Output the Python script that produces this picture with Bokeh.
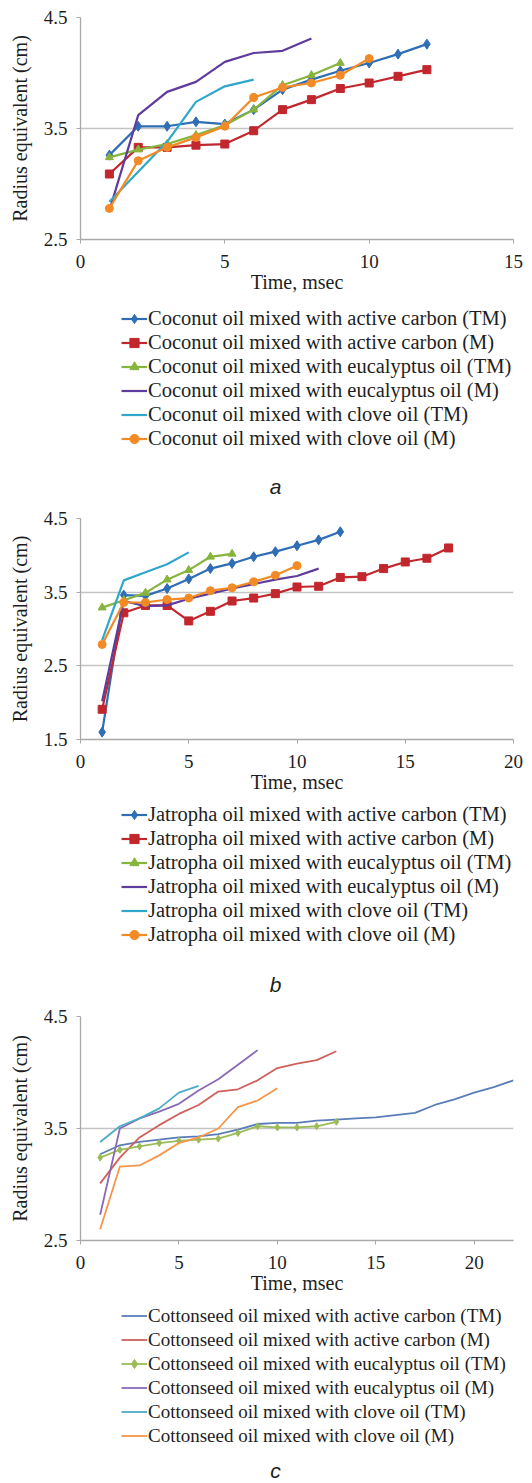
from bokeh.plotting import figure
from bokeh.layouts import column
from bokeh.models import Legend, LegendItem, FixedTicker, Range1d, Label
from bokeh.embed import file_html
from bokeh.resources import INLINE

# ---------------- data ----------------
# panel a : coconut oil
a_t_carbon_tm = [1, 2, 3, 4, 5, 6, 7, 8, 9, 10, 11, 12]
a_r_carbon_tm = [3.26, 3.52, 3.52, 3.56, 3.54, 3.67, 3.85, 3.94, 4.02, 4.09, 4.17, 4.26]
a_t_carbon_m = [1, 2, 3, 4, 5, 6, 7, 8, 9, 10, 11, 12]
a_r_carbon_m = [3.09, 3.33, 3.33, 3.35, 3.36, 3.48, 3.67, 3.76, 3.86, 3.91, 3.97, 4.03]
a_t_euc_tm = [1, 2, 3, 4, 5, 6, 7, 8, 9]
a_r_euc_tm = [3.24, 3.31, 3.36, 3.44, 3.53, 3.67, 3.89, 3.98, 4.09]
a_t_euc_m = [1, 2, 3, 4, 5, 6, 7, 8]
a_r_euc_m = [2.76, 3.62, 3.83, 3.92, 4.10, 4.18, 4.20, 4.31]
a_t_clove_tm = [1, 2, 3, 4, 5, 6]
a_r_clove_tm = [2.84, 3.11, 3.38, 3.74, 3.88, 3.94]
a_t_clove_m = [1, 2, 3, 4, 5, 6, 7, 8, 9, 10]
a_r_clove_m = [2.78, 3.21, 3.33, 3.42, 3.52, 3.78, 3.87, 3.91, 3.98, 4.13]

# panel b : jatropha oil
b_t_carbon_tm = [1, 2, 3, 4, 5, 6, 7, 8, 9, 10, 11, 12]
b_r_carbon_tm = [1.60, 3.46, 3.45, 3.55, 3.68, 3.82, 3.89, 3.98, 4.05, 4.13, 4.21, 4.32]
b_t_carbon_m = [1, 2, 3, 4, 5, 6, 7, 8, 9, 10, 11, 12, 13, 14, 15, 16, 17]
b_r_carbon_m = [1.91, 3.22, 3.32, 3.32, 3.11, 3.24, 3.38, 3.42, 3.48, 3.57, 3.58,
                3.70, 3.71, 3.82, 3.91, 3.96, 4.10]
b_t_euc_tm = [1, 2, 3, 4, 5, 6, 7]
b_r_euc_tm = [3.29, 3.39, 3.49, 3.67, 3.80, 3.98, 4.02]
b_t_euc_m = [1, 2, 3, 4, 5, 6, 7, 8, 9, 10, 11]
b_r_euc_m = [2.02, 3.38, 3.31, 3.32, 3.41, 3.48, 3.55, 3.61, 3.67, 3.72, 3.82]
b_t_clove_tm = [1, 2, 3, 4, 5]
b_r_clove_tm = [2.85, 3.66, 3.77, 3.88, 4.04]
b_t_clove_m = [1, 2, 3, 4, 5, 6, 7, 8, 9, 10]
b_r_clove_m = [2.79, 3.36, 3.36, 3.40, 3.42, 3.52, 3.56, 3.64, 3.73, 3.86]

# panel c : cottonseed oil
c_t_carbon_tm = [1, 2, 3, 4, 5, 6, 7, 8, 9, 10, 11, 12, 13, 14, 15, 16, 17, 18, 19, 20, 21, 22]
c_r_carbon_tm = [3.27, 3.35, 3.38, 3.40, 3.42, 3.43, 3.45, 3.49, 3.54, 3.55, 3.55,
                 3.57, 3.58, 3.59, 3.60, 3.62, 3.64, 3.71, 3.76, 3.82, 3.87, 3.93]
c_t_carbon_m = [1, 2, 3, 4, 5, 6, 7, 8, 9, 10, 11, 12, 13]
c_r_carbon_m = [3.01, 3.24, 3.42, 3.53, 3.63, 3.71, 3.83, 3.85, 3.93, 4.04, 4.08, 4.11, 4.19]
c_t_euc_tm = [1, 2, 3, 4, 5, 6, 7, 8, 9, 10, 11, 12, 13]
c_r_euc_tm = [3.24, 3.31, 3.34, 3.37, 3.39, 3.40, 3.41, 3.46, 3.52, 3.51, 3.51, 3.52, 3.56]
c_t_euc_m = [1, 2, 3, 4, 5, 6, 7, 8, 9]
c_r_euc_m = [2.73, 3.50, 3.59, 3.65, 3.72, 3.84, 3.94, 4.07, 4.20]
c_t_clove_tm = [1, 2, 3, 4, 5, 6]
c_r_clove_tm = [3.38, 3.52, 3.59, 3.68, 3.82, 3.88]
c_t_clove_m = [1, 2, 3, 4, 5, 6, 7, 8, 9, 10]
c_r_clove_m = [2.60, 3.16, 3.17, 3.26, 3.37, 3.42, 3.50, 3.69, 3.75, 3.86]

mix_labels = ["mixed with active carbon (TM)", "mixed with active carbon (M)",
              "mixed with eucalyptus oil (TM)", "mixed with eucalyptus oil (M)",
              "mixed with clove oil (TM)", "mixed with clove oil (M)"]

colors_ab = ["#2F6DB5", "#C1272D", "#86B43C", "#5E3B9C", "#2FA7CB", "#F28A26"]
colors_c = ["#5A7DB9", "#D0605C", "#9BBB59", "#8A6AB5", "#4BACC6", "#F7964A"]

SERIF = "Liberation Serif"
TXT = "#1e1e1e"
W = 532
NAN = float("nan")


def make_panel(oil, series, colors, markers, msizes, lw, xmax, xticks, ymin, yticks,
               caption, main_h, border_top, leg_fig_h, leg_y, cap_y, leg_font):
    p = figure(width=W, height=main_h,
               output_backend="svg", toolbar_location=None,
               x_range=Range1d(0, xmax), y_range=Range1d(ymin, 4.5),
               min_border_left=80, min_border_right=19, min_border_top=border_top,
               min_border_bottom=61)
    p.outline_line_color = None
    p.xgrid.grid_line_color = None
    p.ygrid.grid_line_color = "#C4C4C4"
    p.ygrid.grid_line_width = 1.3
    p.ygrid.ticker = FixedTicker(ticks=yticks)
    p.yaxis.ticker = FixedTicker(ticks=yticks)
    p.xaxis.ticker = FixedTicker(ticks=xticks)
    for ax in (p.xaxis[0], p.yaxis[0]):
        ax.axis_line_color = "#A8A8A8"
        ax.axis_line_width = 1.3
        ax.major_tick_line_color = "#A8A8A8"
        ax.major_tick_out = 4
        ax.major_tick_in = 0
        ax.minor_tick_line_color = None
        ax.major_label_text_font = SERIF
        ax.major_label_text_font_size = "19px"
        ax.major_label_text_color = TXT
        ax.axis_label_text_font = SERIF
        ax.axis_label_text_font_size = "20px"
        ax.axis_label_text_font_style = "normal"
        ax.axis_label_text_color = TXT
    p.xaxis.axis_label = "Time, msec"
    p.yaxis.axis_label = "Radius equivalent (cm)"
    p.xaxis.major_label_standoff = 11
    p.xaxis.axis_label_standoff = 0
    p.yaxis.major_label_standoff = 9
    p.yaxis.axis_label_standoff = 10

    # legend + caption strip below the chart (its frame spans x 80..513)
    lf = figure(width=W, height=leg_fig_h, output_backend="svg", toolbar_location=None,
                x_range=Range1d(0, 1), y_range=Range1d(0, 1),
                x_axis_type=None, y_axis_type=None,
                min_border_left=80, min_border_right=19, min_border_top=0,
                min_border_bottom=0)
    lf.outline_line_color = None
    lf.grid.visible = False

    items = []
    for (t, r), lab, col, mk, ms in zip(series, mix_labels, colors, markers, msizes):
        p.line(t, r, line_color=col, line_width=lw)
        rs = [lf.line([NAN], [NAN], line_color=col, line_width=lw)]
        if mk is not None:
            p.scatter(t, r, marker=mk, size=ms, fill_color=col, line_color=col)
            rs.append(lf.scatter([NAN], [NAN], marker=mk, size=ms,
                                 fill_color=col, line_color=col))
        items.append(LegendItem(label=oil + " oil " + lab, renderers=rs))

    leg = Legend(items=items, location=(41, leg_y), orientation="vertical",
                 label_text_font=SERIF, label_text_font_size=leg_font,
                 label_text_color=TXT, label_height=23, label_standoff=1,
                 glyph_width=26, glyph_height=23, spacing=1, padding=0,
                 margin=0, border_line_color=None, background_fill_alpha=0)
    lf.add_layout(leg, "center")
    cap = Label(x=195, y=cap_y, x_units="screen", y_units="screen",
                text=caption, text_align="center", text_baseline="middle",
                text_font="Liberation Sans", text_font_style="italic",
                text_font_size="21px", text_color=TXT)
    lf.add_layout(cap)
    return [p, lf]


pa = make_panel("Coconut",
                [(a_t_carbon_tm, a_r_carbon_tm), (a_t_carbon_m, a_r_carbon_m),
                 (a_t_euc_tm, a_r_euc_tm), (a_t_euc_m, a_r_euc_m),
                 (a_t_clove_tm, a_r_clove_tm), (a_t_clove_m, a_r_clove_m)],
                colors_ab, ["diamond", "square", "triangle", None, None, "circle"],
                [10, 8, 8, 0, 0, 8], 2.2, 15, [0, 5, 10, 15], 2.5, [2.5, 3.5, 4.5],
                "a", 300, 17, 200, 50, 14, "20.5px")

pb = make_panel("Jatropha",
                [(b_t_carbon_tm, b_r_carbon_tm), (b_t_carbon_m, b_r_carbon_m),
                 (b_t_euc_tm, b_r_euc_tm), (b_t_euc_m, b_r_euc_m),
                 (b_t_clove_tm, b_r_clove_tm), (b_t_clove_m, b_r_clove_m)],
                colors_ab, ["diamond", "square", "triangle", None, None, "circle"],
                [10, 8, 8, 0, 0, 8], 2.2, 20, [0, 5, 10, 15, 20], 1.5, [1.5, 2.5, 3.5, 4.5],
                "b", 300, 18, 198, 52, 14, "20.5px")

pc = make_panel("Cottonseed",
                [(c_t_carbon_tm, c_r_carbon_tm), (c_t_carbon_m, c_r_carbon_m),
                 (c_t_euc_tm, c_r_euc_tm), (c_t_euc_m, c_r_euc_m),
                 (c_t_clove_tm, c_r_clove_tm), (c_t_clove_m, c_r_clove_m)],
                colors_c, [None, None, "diamond", None, None, None],
                [0, 0, 7, 0, 0, 0], 1.8, 22, [0, 5, 10, 15, 20], 2.5, [2.5, 3.5, 4.5],
                "c", 303, 18, 182, 36, 13, "19px")

layout = column(*pa, *pb, *pc, spacing=0)
open("out.html", "w").write(file_html(layout, INLINE))
